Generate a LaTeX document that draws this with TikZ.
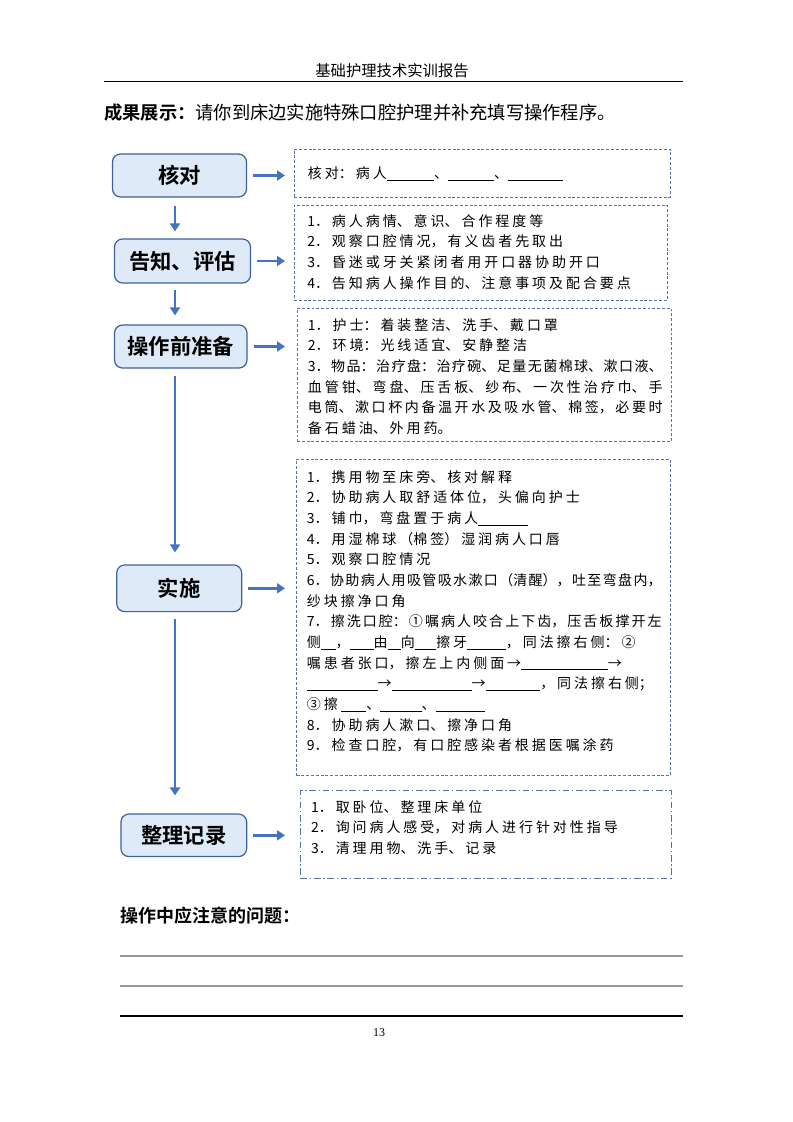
\documentclass[tikz,border=0pt]{standalone}
\usepackage{fontspec}
\setmainfont{Noto Sans CJK SC}[BoldFont={* Bold}]
\newfontfamily\numfont{Liberation Serif}
\usetikzlibrary{arrows.meta,positioning}
\definecolor{boxfill}{RGB}{222,234,247}
\definecolor{boxline}{RGB}{62,98,152}
\definecolor{flowblue}{RGB}{68,114,196}
\definecolor{dashblue}{RGB}{84,116,168}
\newcommand{\blank}[1]{\rule[-1.6pt]{#1}{0.6pt}}
\newcommand{\infofont}{\fontsize{10.5}{15.5}\selectfont
  \XeTeXlinebreaklocale "zh"\XeTeXlinebreakskip=2.2pt plus 1pt minus 2.2pt\relax}
\tikzset{
  stepbox/.style   = {draw=boxline, fill=boxfill, line width=0.9pt,
                      rounded corners=6pt, inner sep=0pt,
                      font=\fontsize{16}{18}\selectfont\bfseries},
  infoframe/.style = {draw=dashblue, line width=0.7pt,
                      dash pattern=on 2.2pt off 1.4pt, inner sep=0pt},
  infotext/.style  = {anchor=base west, inner sep=0pt, text width=266pt,
                      align=justify, font=\infofont},
  flow/.style      = {flowblue, line width=2.2pt,
                      -{Triangle[length=6pt,width=7.5pt]}}
}

\begin{document}
\begin{tikzpicture}[x=0.75pt,y=-0.75pt]
\useasboundingbox (0,0) rectangle (793,1122);
% page head
\node[font=\fontsize{11.5}{13}\selectfont] (header) at (392,70.5) {基础护理技术实训报告};
\draw[line width=0.8pt] (104,81.7) -- (683,81.7);
\node[anchor=west, inner sep=0pt, font=\fontsize{13.7}{16}\selectfont] (title) at (104,113)
  {\textbf{成果展示：}请你到床边实施特殊口腔护理并补充填写操作程序。};

% steps on the left
\node[stepbox, minimum width=100.5pt, minimum height=32.25pt] (hedui)   at (179.5,175.5) {核对};
\node[stepbox, minimum width=102pt,   minimum height=33pt]    (gaozhi)  at (182.5,261)   {告知、评估};
\node[stepbox, minimum width=99.4pt,  minimum height=32.25pt] (zhunbei) at (180.75,346.5) {操作前准备};
\node[stepbox, minimum width=93.75pt, minimum height=35pt]    (shishi)  at (179.2,588.3) {实施};
\node[stepbox, minimum width=94.3pt,  minimum height=31.9pt]  (zhengli) at (183.8,835.3) {整理记录};

% dashed frames on the right
\node[infoframe, minimum width=282pt,   minimum height=36pt]    (kd) at (482,173) {};
\node[infoframe, minimum width=279.75pt,minimum height=71.25pt] (pg) at (480.5,252.5) {};
\node[infoframe, minimum width=280.5pt, minimum height=100.1pt] (zb) at (484,374.75) {};
\node[infoframe, minimum width=280pt,   minimum height=237.5pt] (ss) at (483.3,617.3) {};
\node[infoframe, minimum width=277.65pt,minimum height=66pt,
      dash pattern=on 5pt off 2pt on 1pt off 2pt] (zl) at (485.9,834) {};

\node[infotext] (kdtext) at (307.7,178.3)
  {核对：病人\blank{35.6pt}、\blank{34.5pt}、\blank{41pt}};
\node[infotext] (pgtext) at (307,226.3) {%
1．病人病情、意识、合作程度等\\
2．观察口腔情况，有义齿者先取出\\
3．昏迷或牙关紧闭者用开口器协助开口\\
4．告知病人操作目的、注意事项及配合要点};
\node[infotext] (zbtext) at (307.7,330.3) {%
1．护士：着装整洁、洗手、戴口罩\\
2．环境：光线适宜、安静整洁\\
3．物品：治疗盘：治疗碗、足量无菌棉球、漱口液、\linebreak
血管钳、弯盘、压舌板、纱布、一次性治疗巾、手\linebreak
电筒、漱口杯内备温开水及吸水管、棉签，必要时\linebreak
备石蜡油、外用药。};
\node[infotext] (sstext) at (306.7,482) {%
1．携用物至床旁、核对解释\\
2．协助病人取舒适体位，头偏向护士\\
3．铺巾，弯盘置于病人\blank{37pt}\\
4．用湿棉球（棉签）湿润病人口唇\\
5．观察口腔情况\\
6．协助病人用吸管吸水漱口（清醒），吐至弯盘内，\linebreak
纱块擦净口角\\
7．擦洗口腔：①嘱病人咬合上下齿，压舌板撑开左\linebreak
侧\blank{11pt}，\blank{18pt}由\blank{10pt}向\blank{16pt}擦牙\blank{29pt}，同法擦右侧：②\\
嘱患者张口，擦左上内侧面→\blank{65pt}→\\
\blank{53pt}→\blank{60pt}→\blank{41pt}，同法擦右侧；\\
③擦\ \blank{19pt}、\blank{31pt}、\blank{37pt}\\
8．协助病人漱口、擦净口角\\
9．检查口腔，有口腔感染者根据医嘱涂药};
\node[infotext] (zltext) at (310.8,812) {%
1．取卧位、整理床单位\\
2．询问病人感受，对病人进行针对性指导\\
3．清理用物、洗手、记录};

% arrows
\coordinate (spine) at (175,0);
\coordinate (tips)  at (285,0);
\draw[flow, shorten <=6pt,   shorten >=5.25pt] (hedui.south -| spine)   -- (gaozhi.north -| spine);
\draw[flow, shorten <=5pt,   shorten >=6.75pt] (gaozhi.south -| spine)  -- (zhunbei.north -| spine);
\draw[flow, shorten <=5.25pt,shorten >=9pt]    (zhunbei.south -| spine) -- (shishi.north -| spine);
\draw[flow, shorten <=5.25pt,shorten >=13.5pt] (shishi.south -| spine)  -- (zhengli.north -| spine);
\foreach \s in {hedui,gaozhi,zhunbei,shishi,zhengli}
  \draw[flow, shorten <=4.5pt] (\s.east) -- (\s.east -| tips);

% questions at the foot
\node[anchor=west, inner sep=0pt, font=\fontsize{13.5}{16}\selectfont\bfseries] (notes) at (120,916)
  {操作中应注意的问题：};
\foreach \y/\c in {956/gray!80, 986/gray!80, 1016/black}
  \draw[\c, line width=0.8pt] (120,\y) -- (683,\y);
\node[font=\numfont\fontsize{9}{10}\selectfont] (pageno) at (379,1033) {13};
\end{tikzpicture}
\end{document}
